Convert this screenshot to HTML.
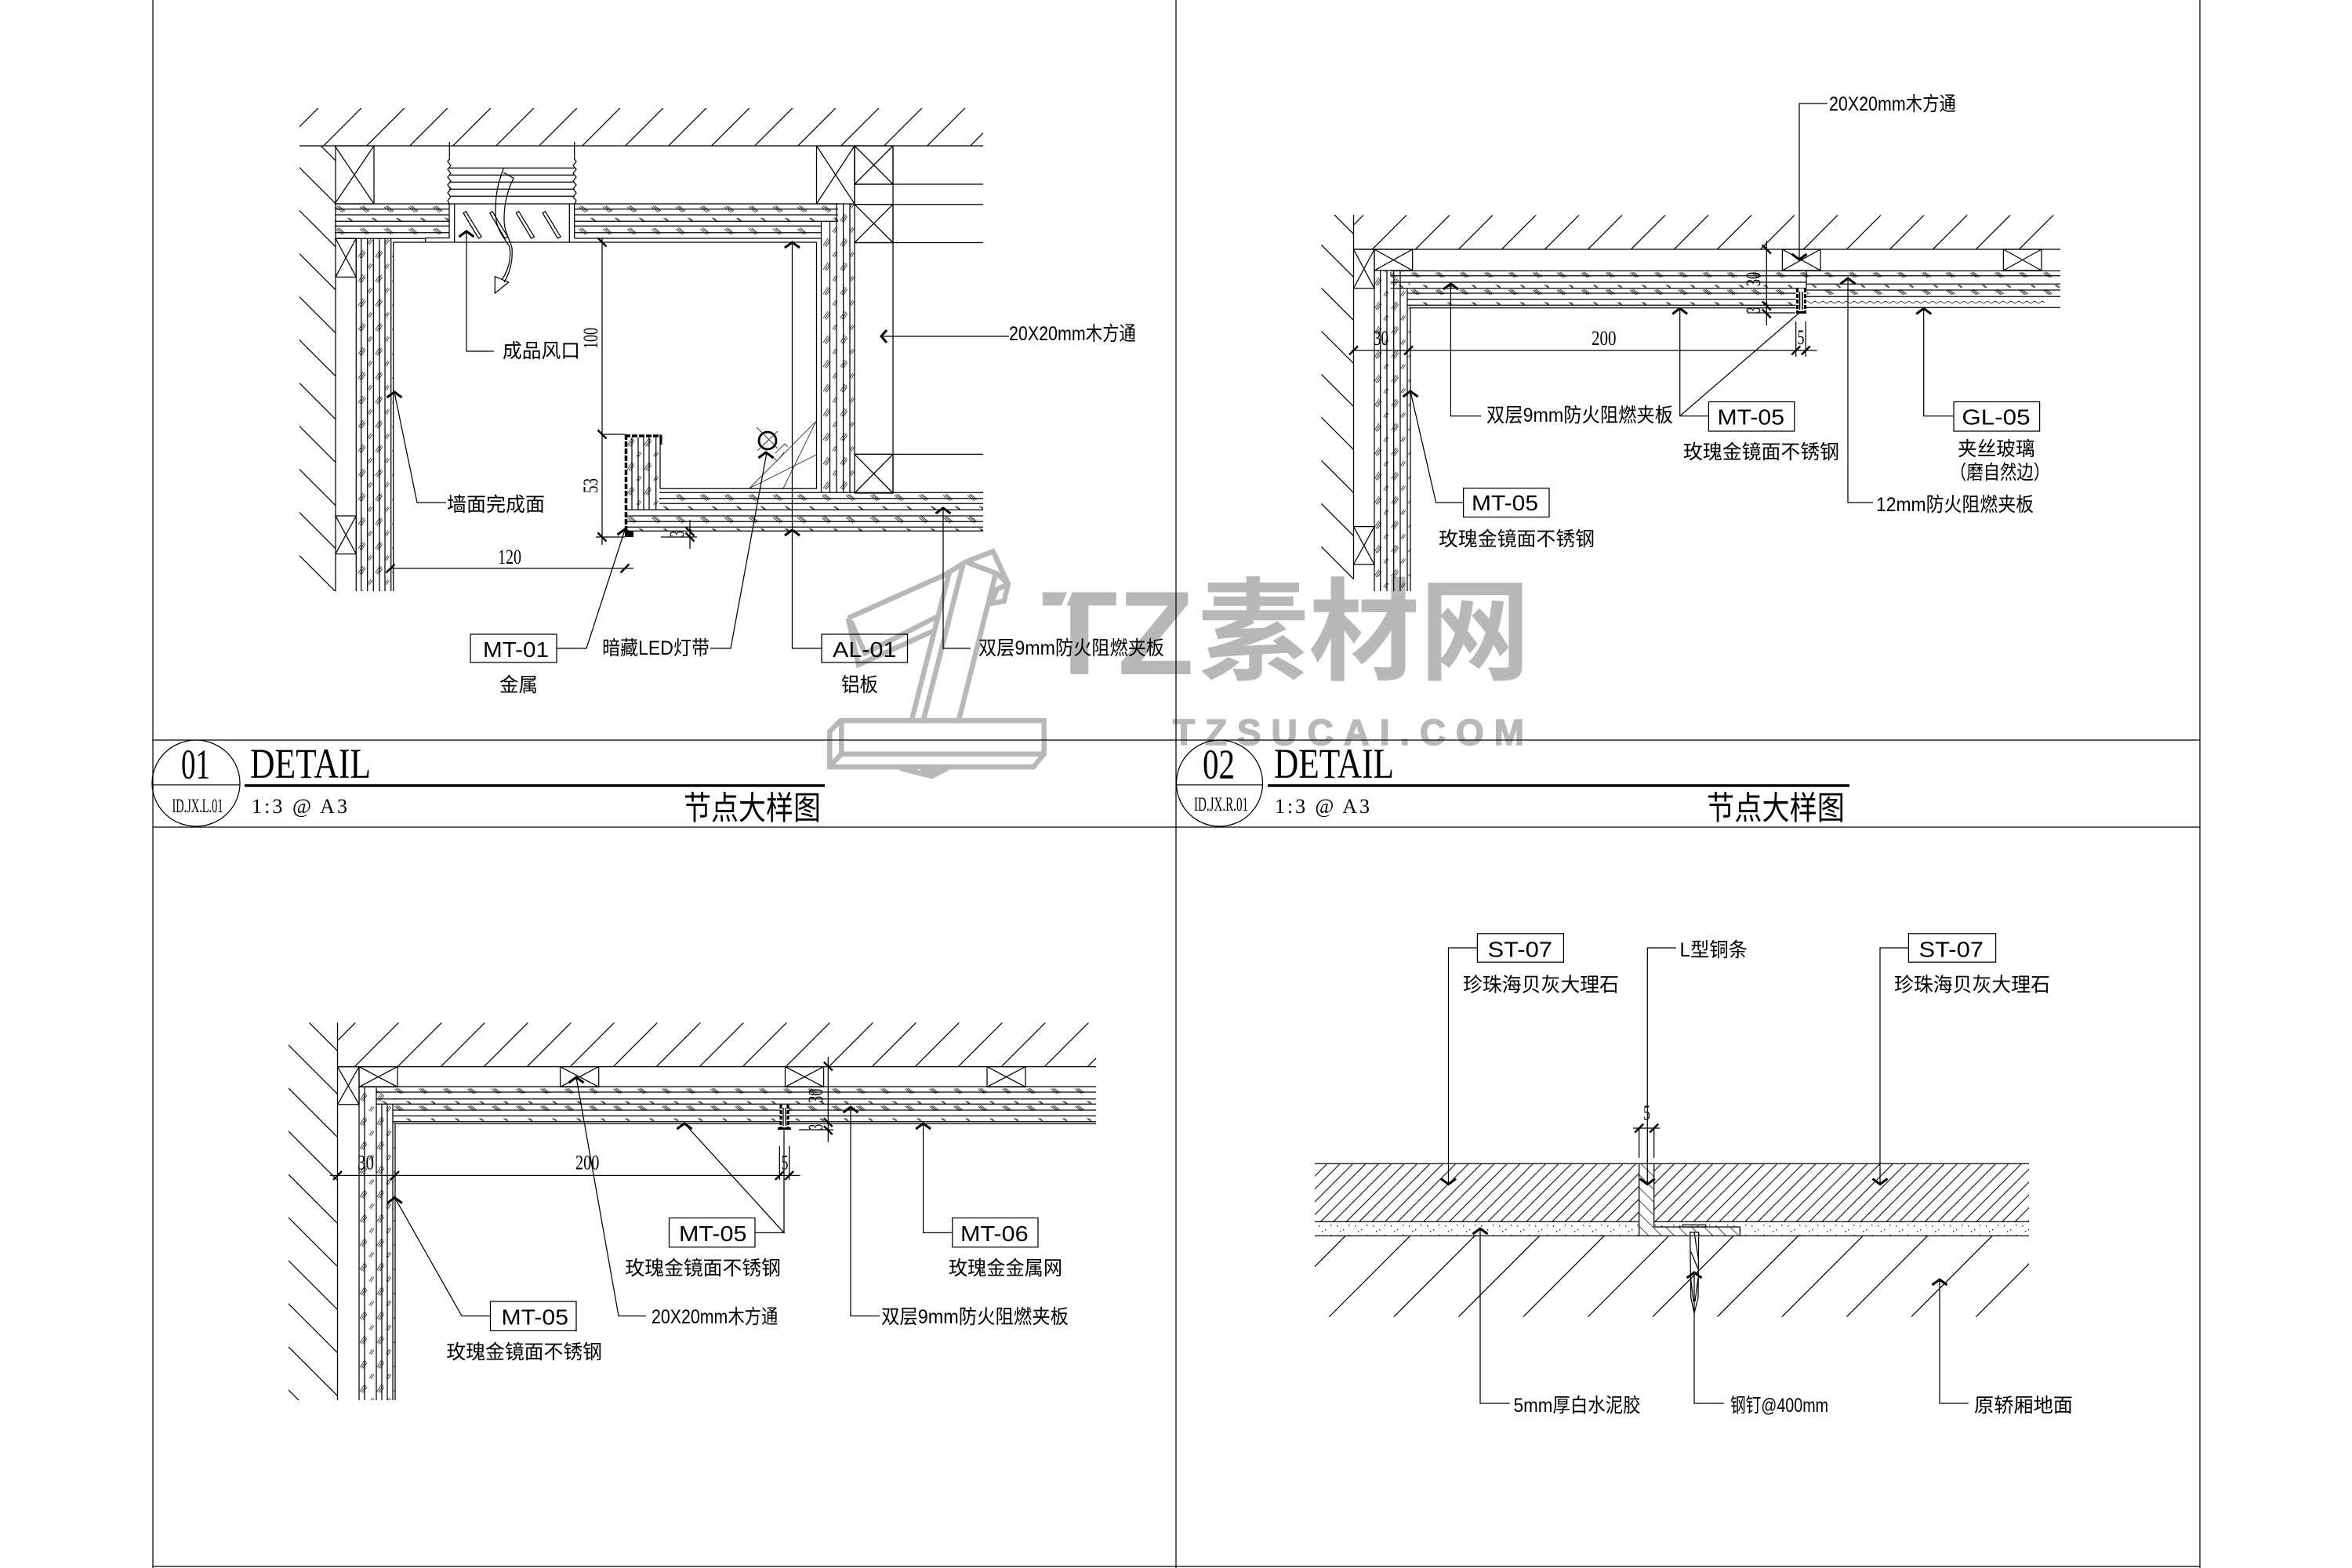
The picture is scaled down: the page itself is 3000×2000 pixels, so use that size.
<!DOCTYPE html>
<html><head><meta charset="utf-8"><style>
html,body{margin:0;padding:0;background:#fff}
svg{display:block}
.l{stroke:#000;stroke-width:1.25;fill:none}
.h{stroke:#000;stroke-width:3;fill:none}
.t{stroke:#333;stroke-width:.9;fill:none}
text{fill:#000;stroke:none}
.c{font:25px "Liberation Sans","Noto Sans CJK SC",sans-serif}
.m{font:28px "Liberation Sans",sans-serif}
.n{font:26px "Liberation Serif",serif}
.w{fill:#b8b8b8}
</style></head><body>
<svg xmlns="http://www.w3.org/2000/svg" width="3000" height="2000" viewBox="0 0 3000 2000">
<defs>
<pattern id="d" patternUnits="userSpaceOnUse" width="55" height="55"><path class="l" d="M-5 60L60 -5M-5 5L5 -5M50 60L60 50"/></pattern>
<pattern id="d1" href="#d" patternTransform="translate(48.7 0)"/>
<pattern id="d2" href="#d" patternTransform="translate(33.4 0)"/>
<pattern id="d3" href="#d" patternTransform="translate(52.8 0)"/>
<pattern id="b" patternUnits="userSpaceOnUse" width="55" height="55"><path class="l" d="M-5 -5L60 60M50 -5L60 5M-5 50L5 60"/></pattern>
<pattern id="b1" href="#b" patternTransform="translate(3.3 0)"/>
<pattern id="b2" href="#b" patternTransform="translate(53 0)"/>
<pattern id="b3" href="#b" patternTransform="translate(25 0)"/>
<pattern id="s" patternUnits="userSpaceOnUse" width="16.4" height="16.4"><path class="l" style="stroke-width:1.05" d="M-3 19.4L19.4 -3M-3 3L3 -3M13.4 19.4L19.4 13.4"/></pattern>
<pattern id="s1" href="#s" patternTransform="translate(12 0)"/>
<pattern id="g" patternUnits="userSpaceOnUse" width="82.5" height="82.5"><path class="l" d="M-3 85.5L85.5 -3M-3 3L3 -3M79.5 85.5L85.5 79.5"/></pattern>
<pattern id="g1" href="#g" patternTransform="translate(75 0)"/>
<pattern id="gb" patternUnits="userSpaceOnUse" width="16.4" height="16.4" patternTransform="translate(2 0)"><path class="t" d="M-2 -2L18.4 18.4M14.4 -2L18.4 2M-2 14.4L2 18.4"/></pattern>
<pattern id="mo" patternUnits="userSpaceOnUse" width="23" height="13"><path d="M3 3h1.4v1.4H3zM11 8h1.4v1.4H11zM18 2h1.4v1.4H18zM7 10h1.4v1.4H7z" fill="#222"/></pattern>
<pattern id="hb" patternUnits="userSpaceOnUse" width="31" height="28.3" patternTransform="translate(427 260)"><path class="t" d="M1 4l9 7M3 3l9 7M5 2.500l8 6.500M16 18l6 4M18 18l5 4"/></pattern>
<pattern id="hb2" patternUnits="userSpaceOnUse" width="31" height="22" patternTransform="translate(30 345)"><path class="t" d="M3 3l8 6M5 2.500l8 6M7 2l8 6M18 18.500l5 3.500M20 18.500l4 3"/></pattern>
<pattern id="hb3" href="#hb2" patternTransform="translate(4.300 1386)"/>
<pattern id="vb" patternUnits="userSpaceOnUse" width="21.7" height="31"><path class="t" d="M1 13L7 4M3 14L9 5M5 14.500L10 7M13 27l4 -6M15 28l4 -6"/></pattern>
<pattern id="vb1" href="#vb" patternTransform="translate(456 315)"/>
<pattern id="vb2" href="#vb" patternTransform="translate(1049 300)"/>
<pattern id="vb3" href="#vb" patternTransform="translate(1752 350)"/>
<pattern id="vb4" href="#vb" patternTransform="translate(458 1390)"/>
<pattern id="vb5" href="#vb" patternTransform="translate(799 555)"/>
<path id="u" class="h" d="M-9.500 7L0 0L9.500 7"/>
<path id="dn" class="h" d="M-9.500 -7L0 0L9.500 -7"/>
<path id="k" d="M-5.500 -5.500L5.500 5.500" stroke="#000" stroke-width="2.400" fill="none"/>
<path id="k2" d="M-5.500 5.500L5.500 -5.500" stroke="#000" stroke-width="2.400" fill="none"/>
</defs>
<rect width="3000" height="2000" fill="#fff"/>

<!-- watermark -->
<g stroke="#b8b8b8" stroke-width="6.500" fill="none">
<path d="M1071.700 919.300H1331.700V961.700L1318.300 978.300H1058.300V933Z"/>
<path d="M1073.300 919.300V961.700H1331.700M1073.300 961.700L1060 976"/>
<path d="M1148.300 980L1188.300 990L1208.300 980M1175 980L1188.300 985L1197 982"/>
<path d="M1081.700 788.300L1205 733.300L1231.700 716.700L1266.700 703.300L1286 745L1280.700 766.700L1264 770L1271.700 751.700L1286 745M1231.700 716.700L1271.700 731.700L1286 745"/>
<path d="M1081.700 788.300L1095 848L1190 805M1085 791.700L1103.300 833.300L1198.300 785"/>
<path d="M1211.700 726.700L1163.300 917M1228.300 720L1178.300 917M1270 731.700L1223.300 917"/>
</g>
<text class="w" x="1328" y="860" textLength="195" lengthAdjust="spacingAndGlyphs" style="font:bold 152px 'Liberation Sans',sans-serif">TZ</text>
<path d="M1369 745L1356 775" stroke="#fff" stroke-width="6" fill="none"/>
<text class="w" x="1528" y="856" textLength="424" lengthAdjust="spacingAndGlyphs" style="font:bold 142px 'Noto Sans CJK SC',sans-serif">素材网</text>
<text class="w" x="1496" y="950" textLength="448" style="font:bold 46px 'Liberation Sans',sans-serif;stroke:#b8b8b8;stroke-width:1.5">TZSUCAI.COM</text>

<!-- frame -->
<path class="l" d="M195 0V2000M1500 0V2000M2806 0V2000M195 944H2806M195 1055H2806M195 1998H2806"/>
<!-- title blocks -->
<ellipse class="l" cx="250" cy="999" rx="56" ry="55"/>
<path class="l" d="M194 1001H306"/>
<path d="M312 1002H1052" stroke="#000" stroke-width="3.600"/>
<text class="n" style="font-size:54px" x="231" y="993" textLength="37" lengthAdjust="spacingAndGlyphs">01</text>
<text class="n" style="font-size:54px" x="319" y="992" textLength="154" lengthAdjust="spacingAndGlyphs">DETAIL</text>
<text class="n" style="font-size:25px" x="219.500" y="1036" textLength="65" lengthAdjust="spacingAndGlyphs">ID.JX.L.01</text>
<text class="n" style="font-size:26px" x="321" y="1037" textLength="122">1:3 @ A3</text>
<text class="c" style="font-size:36px" transform="translate(872 1045) scale(1 1.15)" x="0" y="0" textLength="175" lengthAdjust="spacingAndGlyphs">节点大样图</text>
<ellipse class="l" cx="1555.500" cy="999" rx="55" ry="55"/>
<path class="l" d="M1500 1001H1611"/>
<path d="M1617 1002H2359" stroke="#000" stroke-width="3.600"/>
<text class="n" style="font-size:54px" x="1534" y="993" textLength="41" lengthAdjust="spacingAndGlyphs">02</text>
<text class="n" style="font-size:54px" x="1625" y="992" textLength="153" lengthAdjust="spacingAndGlyphs">DETAIL</text>
<text class="n" style="font-size:25px" x="1523" y="1034" textLength="69" lengthAdjust="spacingAndGlyphs">ID.JX.R.01</text>
<text class="n" style="font-size:26px" x="1626" y="1037" textLength="121">1:3 @ A3</text>
<text class="c" style="font-size:36px" transform="translate(2177 1045) scale(1 1.15)" x="0" y="0" textLength="176" lengthAdjust="spacingAndGlyphs">节点大样图</text>

<!-- PANEL 1 -->
<rect x="382" y="138" width="872" height="48" fill="url(#d1)"/>
<rect x="382" y="186" width="46" height="568" fill="url(#b1)"/>
<rect x="427" y="260" width="146" height="44" fill="url(#hb)"/>
<rect x="733" y="260" width="336" height="22" fill="url(#hb)"/>
<rect x="733" y="282" width="314" height="22" fill="url(#hb)"/>
<rect x="1047.500" y="282" width="42.500" height="347" fill="url(#vb2)"/>
<rect x="1069" y="260" width="21" height="22" fill="url(#vb2)"/>
<rect x="842" y="628" width="412" height="22" fill="url(#hb)"/>
<rect x="800" y="650" width="454" height="27" fill="url(#hb)"/>
<rect x="800" y="558" width="42" height="92" fill="url(#vb5)"/>
<rect x="454" y="304" width="48" height="450" fill="url(#vb1)"/>
<path class="l" d="M382 186H1254M428 186V754"/>
<path class="l" d="M427 186H477V260H427M427 186L477 260M477 186L427 260"/>
<path class="l" d="M1041.500 186H1090V260H1041.500ZM1041.500 186L1090 260M1090 186L1041.500 260"/>
<path class="l" d="M1090 186H1139V235H1090ZM1090 186L1139 235M1139 186L1090 235"/>
<path class="l" d="M1090 260.700H1139V309.500H1090M1090 260.700L1139 309.500M1139 260.700L1090 309.500"/>
<path class="l" d="M1090 579.400H1139V629H1090M1090 579.400L1139 629M1139 579.400L1090 629"/>
<path class="l" d="M1139 186V629M1090 235H1254M1090 260.700H1254M1090 309.500H1254M1090 579.400H1254"/>
<path class="l" d="M427 260H573M427 266.700H573M427 274H573M427 282.300H573M427 288.300H573M427 296.700H573M427 304.300H542.700V309M542.700 303.500H573V260"/>
<path class="l" d="M573.300 181V203L571 206L575 211L571 216L575 221L571 226L575 231L571 236L575 241L571 246L575 251L571 256L573.300 260M732.700 181V203L735 206L731 211L735 216L731 221L735 226L731 231L735 236L731 241L735 246L731 251L735 256L732.700 260"/>
<path class="l" d="M573 214.300H732.700M573 223.300H732.700M573 232.300H732.700M573 241.300H732.700M573 250.300H732.700M573 260H732.700"/>
<path class="l" d="M579.700 260V309M726.300 260V309M501.700 309H1041.500M733 304H1047.500M732.700 260V304"/>
<path class="l" d="M733 260H1069M733 266.700H1069M733 274H1069M733 282.300H1069M733 288.300H1047.500M733 296.700H1047.500"/>
<path class="l" d="M591 271.700L594.300 269.700L614 302L610.300 304ZM624.700 271.700L628 269.700L647.700 302L644 304ZM658.400 271.700L661.700 269.700L681.400 302L677.700 304ZM692.100 271.700L695.400 269.700L715.100 302L711.400 304Z"/>
<path class="l" d="M642.300 214.300C636 232 632 245 632 270C632 290 640 300 649 313C652 320 652 340 640 357M642.300 220L655 227.300C646 245 643 262 643 280C643 295 650 305 653 316C654 330 652 345 643 360"/>
<path class="l" d="M631.300 352.700L648.700 360L631.300 374Z"/>
<path class="l" d="M454.300 304V754M460.700 304V754M468.700 304V754M476.300 304V754M484 304V754M491 304V754M498.700 304V754M501.700 309V754"/>
<path class="l" d="M428 304H454.300V353.400H428M428 304L454.300 353.400M454.300 304L428 353.400"/>
<path class="l" d="M428 658H454.300V706.600H428M428 658L454.300 706.600M454.300 658L428 706.600"/>
<path class="l" d="M1041.500 309V623.300M1047.500 282V628.300M1058.500 282V629M1067 260V629M1075.600 260V629M1084 260V629M1090 186V629"/>
<path class="l" d="M842 623.300H1041.500M842 554V623.300"/>
<path class="l" d="M841 628.300H1254M841 635.700H1254M841 642.300H1254M797 650.300H1254M797 658H1254M797 665.300H1254M797 672.300H1254M797 677.300H1254"/>
<path class="l" d="M806 558V650M814 558V650M821 558V650M828 558V650M836.700 558V650"/>
<path d="M798.500 554V676" stroke="#000" stroke-width="3.500" stroke-dasharray="7 2" fill="none"/>
<path d="M797 556H843" stroke="#000" stroke-width="3.500" stroke-dasharray="7 2" fill="none"/>
<path d="M843 555V567" stroke="#000" stroke-width="3" fill="none"/>
<rect x="797" y="678" width="11" height="7" fill="#111"/>
<circle cx="979" cy="562" r="11" fill="none" stroke="#000" stroke-width="2.800"/>
<path class="t" d="M965 545L992 572M992 550L966 575M989 578L1001 566L1005 570M985 582L991 588L1000 577"/>
<path class="t" d="M955.700 623L1041 537.300M999 623L1041 537.300M955.700 623L1041.500 580"/>
<!-- leaders p1 -->
<use href="#u" x="595" y="295"/><path class="l" d="M595 295V448H630"/>
<use href="#u" x="1010.500" y="309"/><use href="#u" x="1010.500" y="676"/><path class="l" d="M1010.500 309V827H1048"/>
<use href="#u" x="1203" y="648"/><path class="l" d="M1203 648V827H1238"/>
<use href="#u" x="503" y="500"/><path class="l" d="M503 500L532 641H569"/>
<use href="#u" x="977" y="577"/><path class="l" d="M978 577L932 827H906"/>
<use href="#u" x="797" y="675"/><path class="l" d="M797 676L748 827H710"/>
<path class="h" d="M1131 421L1124 429L1131 437"/><path class="l" d="M1124 429H1287"/>
<rect class="l" x="600" y="809" width="110" height="36"/><rect class="l" x="1048" y="809" width="109.500" height="36"/>
<text class="m" x="616" y="838" textLength="84" lengthAdjust="spacingAndGlyphs">MT-01</text>
<text class="m" x="1062" y="838" textLength="81.500" lengthAdjust="spacingAndGlyphs">AL-01</text>
<text class="c" x="641" y="456" textLength="99" lengthAdjust="spacingAndGlyphs">成品风口</text>
<text class="c" x="1287" y="434" textLength="162" lengthAdjust="spacingAndGlyphs">20X20mm木方通</text>
<text class="c" x="570" y="652" textLength="125" lengthAdjust="spacingAndGlyphs">墙面完成面</text>
<text class="c" x="768" y="835" textLength="137" lengthAdjust="spacingAndGlyphs">暗藏LED灯带</text>
<text class="c" x="1248" y="835" textLength="237" lengthAdjust="spacingAndGlyphs">双层9mm防火阻燃夹板</text>
<text class="c" x="637" y="882" textLength="49" lengthAdjust="spacingAndGlyphs">金属</text>
<text class="c" x="1073" y="882" textLength="47" lengthAdjust="spacingAndGlyphs">铝板</text>
<!-- dims p1 -->
<path class="l" d="M768 303V695M768 554H797M760 685H797M498 725H808M880 663V700M843 685H889"/>
<use href="#k" x="768" y="309"/><use href="#k" x="768" y="554"/><use href="#k" x="768" y="685"/><use href="#k2" x="498" y="725"/><use href="#k2" x="797" y="725"/><use href="#k" x="880" y="678"/><use href="#k" x="880" y="685"/>
<text class="n" transform="rotate(-90 762 445)" x="762" y="445" textLength="27" lengthAdjust="spacingAndGlyphs">100</text>
<text class="n" transform="rotate(-90 762 629)" x="762" y="629" textLength="19" lengthAdjust="spacingAndGlyphs">53</text>
<text class="n" x="635" y="719" textLength="30" lengthAdjust="spacingAndGlyphs">120</text>
<text class="n" transform="rotate(-90 872 685)" x="872" y="685" textLength="8" lengthAdjust="spacingAndGlyphs">3</text>

<!-- PANEL 2 -->
<rect x="1726.500" y="274.400" width="901" height="43.600" fill="url(#d2)"/>
<rect x="1685.500" y="274" width="41" height="465" fill="url(#b2)"/>
<rect x="1773" y="345" width="532" height="23" fill="url(#hb2)"/>
<rect x="1795" y="368" width="495" height="22" fill="url(#hb2)"/>
<rect x="2305" y="345" width="323" height="38" fill="url(#hb2)"/>
<rect x="1753" y="345" width="46" height="409" fill="url(#vb3)"/>
<path class="l" d="M1726.500 318H2628M1726.500 274V739"/>
<path class="l" d="M1753 318H1801.700V345H1753ZM1753 318L1801.700 345M1801.700 318L1753 345"/>
<path class="l" d="M2273.400 318H2322V345H2273.400ZM2273.400 318L2322 345M2322 318L2273.400 345"/>
<path class="l" d="M2555.400 318H2604V345H2555.400ZM2555.400 318L2604 345M2604 318L2555.400 345"/>
<path class="l" d="M1726.500 318H1753V367.700H1726.500M1726.500 318L1753 367.700M1753 318L1726.500 367.700"/>
<path class="l" d="M1726.500 671.600H1753V720H1726.500M1726.500 671.600L1753 720M1753 671.600L1726.500 720"/>
<path class="l" d="M1773.500 345.500H2628M1773.500 351.700H2304M1773.500 360H2304M1773.500 367.700H2304V345.500M1795 374H2290.500M1795 381.700H2290.500M1795 389.300H2290.500M1799 392.700H2290.500"/>
<path class="l" d="M2304 351.700H2628M2304 362.300H2628M2304 370H2628M2304 378.300H2628M2304 392.300H2628"/>
<path class="t" d="M2305 384l5 3l5 -3l5 3l5 -3l5 3l5 -3l5 3l5 -3l5 3l5 -3l5 3l5 -3l5 3l5 -3l5 3l5 -3l5 3l5 -3l5 3l5 -3l5 3l5 -3l5 3l5 -3l5 3l5 -3l5 3l5 -3l5 3l5 -3l5 3l5 -3l5 3l5 -3l5 3l5 -3l5 3l5 -3l5 3l5 -3l5 3l5 -3l5 3l5 -3l5 3l5 -3l5 3l5 -3l5 3l5 -3l5 3l5 -3l5 3l5 -3l5 3l5 -3l5 3l5 -3l5 3l5 -3l3 2"/>
<path class="l" d="M1753 345V754M1760.700 345V754M1769 345V754M1777.700 345V754M1786 345V754M1795 368V754M1799 392.400V754"/>
<rect x="2291" y="368" width="13" height="31" fill="#fff"/>
<path d="M2292.500 368V398M2302.500 368V398" stroke="#000" stroke-width="3.200" stroke-dasharray="5 2" fill="none"/>
<path d="M2291 398.500H2304M2295.500 372V395M2299 372V395" stroke="#000" stroke-width="1.500" fill="none"/>
<path d="M2291 398.500H2304" stroke="#000" stroke-width="3" fill="none"/>
<!-- leaders p2 -->
<use href="#dn" x="2295" y="331"/><path class="l" d="M2295 330V132H2331"/>
<use href="#u" x="1850.400" y="362"/><path class="l" d="M1850.400 362V530.600H1889"/>
<use href="#u" x="2142.700" y="393.400"/><path class="l" d="M2142.700 393.400V530.600H2179.400M2142.700 530.600L2295 399"/>
<use href="#u" x="2453.700" y="393.400"/><path class="l" d="M2453.700 393.400V530.600H2492"/>
<use href="#u" x="2357" y="355"/><path class="l" d="M2357 355V641H2389"/>
<use href="#u" x="1799" y="499"/><path class="l" d="M1799 499L1831.600 641H1866.600"/>
<rect class="l" x="2179.400" y="512.500" width="109.400" height="37.500"/><rect class="l" x="2492" y="512.500" width="109.600" height="37.500"/><rect class="l" x="1866.600" y="622.700" width="109.400" height="36.800"/>
<text class="m" x="2190.500" y="541.600" textLength="85.500" lengthAdjust="spacingAndGlyphs">MT-05</text>
<text class="m" x="2502.400" y="541.600" textLength="87.200" lengthAdjust="spacingAndGlyphs">GL-05</text>
<text class="m" x="1877" y="651" textLength="85" lengthAdjust="spacingAndGlyphs">MT-05</text>
<text class="c" x="2333" y="141" textLength="162" lengthAdjust="spacingAndGlyphs">20X20mm木方通</text>
<text class="c" x="1896" y="538" textLength="238" lengthAdjust="spacingAndGlyphs">双层9mm防火阻燃夹板</text>
<text class="c" x="2147" y="585" textLength="199" lengthAdjust="spacingAndGlyphs">玫瑰金镜面不锈钢</text>
<text class="c" x="2497" y="581" textLength="98.600" lengthAdjust="spacingAndGlyphs">夹丝玻璃</text>
<text class="c" x="2487" y="611" textLength="128" lengthAdjust="spacingAndGlyphs">（磨自然边）</text>
<text class="c" x="2393" y="652" textLength="201" lengthAdjust="spacingAndGlyphs">12mm防火阻燃夹板</text>
<text class="c" x="1835" y="696" textLength="199" lengthAdjust="spacingAndGlyphs">玫瑰金镜面不锈钢</text>
<!-- dims p2 -->
<path class="l" d="M1724 447H2317.700M2290.700 410V455M2303.300 410V455M2253.300 307V415M2228 399H2290"/>
<use href="#k2" x="1726.500" y="447"/><use href="#k2" x="1796.500" y="447"/><use href="#k2" x="2290.700" y="447"/><use href="#k2" x="2303.300" y="447"/>
<use href="#k" x="2253.300" y="318"/><use href="#k" x="2253.300" y="390"/><use href="#k" x="2253.300" y="400"/>
<text class="n" x="1752" y="440" textLength="19" lengthAdjust="spacingAndGlyphs">30</text>
<text class="n" x="2030" y="440" textLength="31.500" lengthAdjust="spacingAndGlyphs">200</text>
<text class="n" x="2292.500" y="439" textLength="9" lengthAdjust="spacingAndGlyphs">5</text>
<text class="n" transform="rotate(-90 2245 365)" x="2245" y="365" textLength="18" lengthAdjust="spacingAndGlyphs">30</text>
<text class="n" transform="rotate(-90 2245 399)" x="2245" y="399" textLength="7" lengthAdjust="spacingAndGlyphs">3</text>

<!-- PANEL 3 -->
<rect x="430.500" y="1304.500" width="967.500" height="56" fill="url(#d3)"/>
<rect x="368" y="1304.500" width="62.500" height="481.500" fill="url(#b3)"/>
<rect x="480" y="1386.400" width="918" height="22.400" fill="url(#hb3)"/>
<rect x="501" y="1408.800" width="897" height="22" fill="url(#hb3)"/>
<rect x="458" y="1386.400" width="46" height="399.600" fill="url(#vb4)"/>
<path class="l" d="M430.500 1360.600H1398M430.500 1304.500V1786"/>
<path class="l" d="M458 1360.600H507V1386.400H458ZM458 1360.600L507 1386.400M507 1360.600L458 1386.400"/>
<path class="l" d="M714.600 1360.600H763.700V1386.400H714.600ZM714.600 1360.600L763.700 1386.400M763.700 1360.600L714.600 1386.400"/>
<path class="l" d="M1001.500 1360.600H1050.600V1386.400H1001.500ZM1001.500 1360.600L1050.600 1386.400M1050.600 1360.600L1001.500 1386.400"/>
<path class="l" d="M1259 1360.600H1308V1386.400H1259ZM1259 1360.600L1308 1386.400M1308 1360.600L1259 1386.400"/>
<path class="l" d="M430.500 1360.600H458V1408.800H430.500M430.500 1360.600L458 1408.800M458 1360.600L430.500 1408.800"/>
<path class="l" d="M458 1386H1398M480 1393H1398M480 1401.700H1398M480 1408.300H1398M501 1416H1398M501 1423.300H1398M501 1430.700H1398M504 1433.300H1398"/>
<path class="l" d="M458 1386.400V1786M465 1386.400V1786M480 1386.400V1786M487 1408.800V1786M494 1408.800V1786M501 1408.800V1786M504 1433V1786"/>
<rect x="995" y="1409" width="11" height="30" fill="#fff"/>
<path d="M996 1409V1438M1005 1409V1438" stroke="#000" stroke-width="3.200" stroke-dasharray="5 2" fill="none"/>
<path d="M999 1413V1436M1002 1413V1436" stroke="#000" stroke-width="1.300" fill="none"/>
<path d="M992 1439.500H1009" stroke="#000" stroke-width="3" fill="none"/>
<!-- leaders p3 -->
<use href="#u" x="503.500" y="1527.600"/><path class="l" d="M503.500 1527.600L589 1678.500H625.500"/>
<use href="#u" x="873" y="1433"/><path class="l" d="M873 1433L1000 1572.400H963M1000 1572.400V1441.500"/>
<use href="#u" x="1177.600" y="1433"/><path class="l" d="M1177.600 1433V1572.400H1214.800"/>
<use href="#u" x="735" y="1374"/><path class="l" d="M735 1374L789 1678.500H824"/>
<use href="#u" x="1085" y="1412"/><path class="l" d="M1085 1412V1678.500H1122"/>
<rect class="l" x="625.500" y="1660" width="109.500" height="37.400"/><rect class="l" x="853.500" y="1553.500" width="109.500" height="37.200"/><rect class="l" x="1214.800" y="1553.500" width="109.200" height="37.200"/>
<text class="m" x="639.500" y="1689.500" textLength="85.500" lengthAdjust="spacingAndGlyphs">MT-05</text>
<text class="m" x="866" y="1583" textLength="86.400" lengthAdjust="spacingAndGlyphs">MT-05</text>
<text class="m" x="1225" y="1583" textLength="86.600" lengthAdjust="spacingAndGlyphs">MT-06</text>
<text class="c" x="569.400" y="1733" textLength="198.600" lengthAdjust="spacingAndGlyphs">玫瑰金镜面不锈钢</text>
<text class="c" x="797.400" y="1626" textLength="198.600" lengthAdjust="spacingAndGlyphs">玫瑰金镜面不锈钢</text>
<text class="c" x="1210" y="1626" textLength="145" lengthAdjust="spacingAndGlyphs">玫瑰金金属网</text>
<text class="c" x="831" y="1688" textLength="161.400" lengthAdjust="spacingAndGlyphs">20X20mm木方通</text>
<text class="c" x="1124" y="1688" textLength="239" lengthAdjust="spacingAndGlyphs">双层9mm防火阻燃夹板</text>
<!-- dims p3 -->
<path class="l" d="M420.700 1499.400H1020.500M994.300 1461.700V1505M1006.700 1461.700V1505M1056.300 1348V1456.700M1019 1441H1063"/>
<use href="#k2" x="430.500" y="1499.400"/><use href="#k2" x="503.500" y="1499.400"/><use href="#k2" x="994.300" y="1499.400"/><use href="#k2" x="1006.700" y="1499.400"/>
<use href="#k" x="1056.300" y="1360"/><use href="#k" x="1056.300" y="1431.700"/><use href="#k" x="1056.300" y="1441.700"/>
<text class="n" x="456" y="1491.500" textLength="21" lengthAdjust="spacingAndGlyphs">30</text>
<text class="n" x="734" y="1491.500" textLength="30.400" lengthAdjust="spacingAndGlyphs">200</text>
<text class="n" x="996.500" y="1491.700" textLength="9" lengthAdjust="spacingAndGlyphs">5</text>
<text class="n" transform="rotate(-90 1049 1406.700)" x="1049" y="1406.700" textLength="18" lengthAdjust="spacingAndGlyphs">30</text>
<text class="n" transform="rotate(-90 1049 1441)" x="1049" y="1441" textLength="7" lengthAdjust="spacingAndGlyphs">3</text>

<!-- PANEL 4 -->
<rect x="1677" y="1484.400" width="413.600" height="73.600" fill="url(#s1)"/>
<rect x="2110" y="1484.400" width="478" height="73.600" fill="url(#s1)"/>
<rect x="2090.700" y="1484.400" width="19" height="92" fill="url(#gb)"/>
<rect x="2110" y="1565" width="109.300" height="11" fill="url(#gb)"/>
<rect x="1677" y="1558.300" width="413.700" height="17.700" fill="url(#mo)"/>
<rect x="2219" y="1558.300" width="369" height="17.700" fill="url(#mo)"/>
<rect x="2110" y="1558.300" width="109" height="6.700" fill="url(#mo)"/>
<rect x="1677" y="1576.400" width="911" height="103.200" fill="url(#g1)"/>
<rect x="2156" y="1571" width="10.500" height="30" fill="#fff"/>
<path class="l" d="M1677 1484.300H2588M1677 1558.300H2090.700M2110 1558.300H2588M1677 1576.200H2588"/>
<path class="l" d="M2090.700 1484.300V1576.200M2109.700 1484.300V1565H2219.300V1576.200"/>
<rect class="l" x="2146" y="1562.300" width="29.700" height="2.700"/>
<path class="l" d="M2155.700 1571.700H2166.700L2166 1655L2161 1675L2156.700 1655ZM2157 1597L2166.500 1620M2161 1572L2166.500 1607M2156.500 1630L2160 1660M2166 1630L2162 1660"/>
<use href="#dn" x="1847.500" y="1510.500"/><path class="l" d="M1847.500 1510.500V1209H1884.400"/>
<use href="#dn" x="2101.300" y="1510.500"/><path class="l" d="M2101.300 1510.500V1209H2138"/>
<use href="#dn" x="2398" y="1510.500"/><path class="l" d="M2398 1510.500V1209H2434.400"/>
<use href="#u" x="1888" y="1567"/><path class="l" d="M1888 1567V1790H1925.600"/>
<use href="#u" x="2161" y="1623"/><path class="l" d="M2161 1623V1790H2199"/>
<use href="#u" x="2474" y="1632"/><path class="l" d="M2474 1632V1790H2511"/>
<rect class="l" x="1884.400" y="1190.800" width="110" height="36.400"/><rect class="l" x="2434.400" y="1190.800" width="111.200" height="36.400"/>
<text class="m" x="1897.500" y="1220.700" textLength="82.500" lengthAdjust="spacingAndGlyphs">ST-07</text>
<text class="m" x="2447.500" y="1220.700" textLength="82.500" lengthAdjust="spacingAndGlyphs">ST-07</text>
<text class="c" x="1866" y="1264.500" textLength="199" lengthAdjust="spacingAndGlyphs">珍珠海贝灰大理石</text>
<text class="c" x="2416" y="1264.500" textLength="199" lengthAdjust="spacingAndGlyphs">珍珠海贝灰大理石</text>
<text class="c" x="2142.500" y="1220" textLength="86.500" lengthAdjust="spacingAndGlyphs">L型铜条</text>
<text class="c" x="1930.600" y="1801" textLength="162" lengthAdjust="spacingAndGlyphs">5mm厚白水泥胶</text>
<text class="c" x="2207" y="1801" textLength="125" lengthAdjust="spacingAndGlyphs">钢钉@400mm</text>
<text class="c" x="2518" y="1801" textLength="126" lengthAdjust="spacingAndGlyphs">原轿厢地面</text>
<path class="l" d="M2083 1439H2117M2090.700 1439V1476.700M2109.700 1439V1476.700"/>
<use href="#k2" x="2090.700" y="1439"/><use href="#k2" x="2109.700" y="1439"/>
<text class="n" x="2096" y="1428" textLength="9" lengthAdjust="spacingAndGlyphs">5</text>
</svg>
</body></html>
